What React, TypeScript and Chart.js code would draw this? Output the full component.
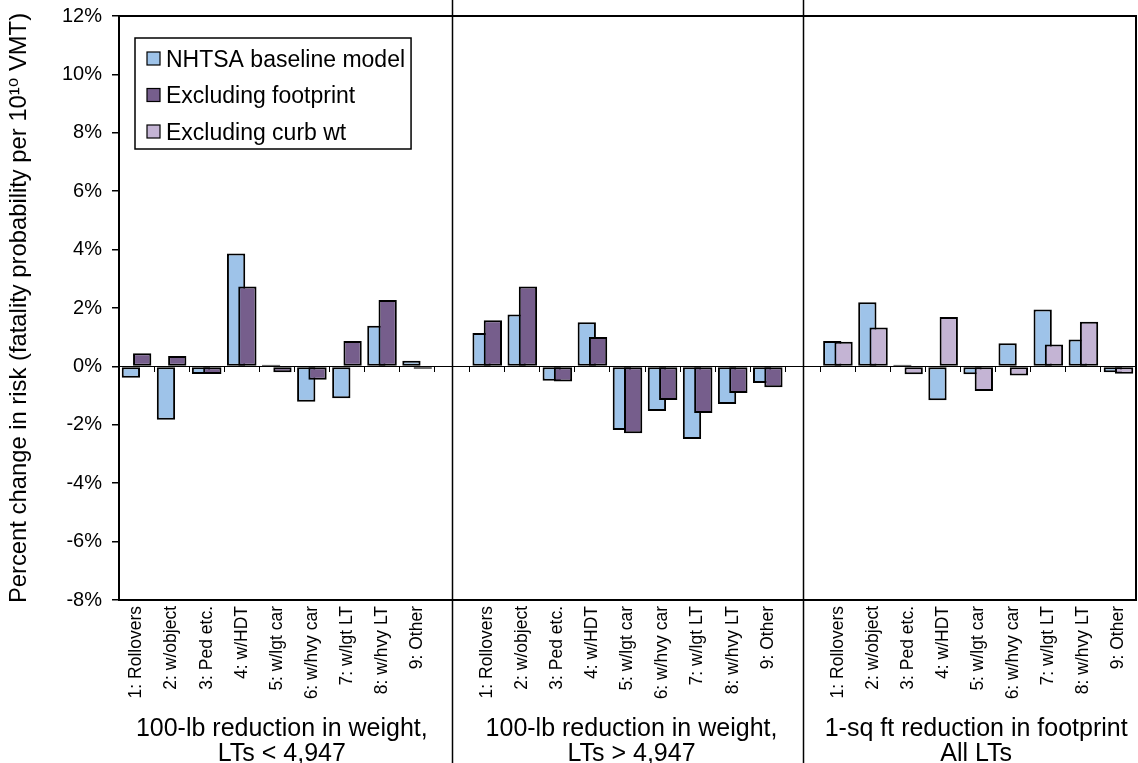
import React, { useEffect, useRef } from 'react';
import { Chart, registerables } from 'chart.js';

Chart.register(...registerables);

const FONT = '"Liberation Sans", Arial, "DejaVu Sans", sans-serif';

// ---- data ----
const crashTypes = [
  '1: Rollovers',
  '2: w/object',
  '3: Ped etc.',
  '4: w/HDT',
  '5: w/lgt car',
  '6: w/hvy car',
  '7: w/lgt LT',
  '8: w/hvy LT',
  '9: Other',
];

const groupTitles = [
  ['100-lb reduction in weight,', 'LTs < 4,947'],
  ['100-lb reduction in weight,', 'LTs > 4,947'],
  ['1-sq ft reduction in footprint', 'All LTs'],
];

const seriesNames = ['NHTSA baseline model', 'Excluding footprint', 'Excluding curb wt'];

// percent change in risk, panel 1: 100-lb reduction, LTs < 4,947
const baselineLight = [-0.39, -1.83, -0.26, 3.87, 0.06, -1.21, -1.09, 1.39, 0.19];
const footprintLight = [0.45, 0.36, -0.26, 2.74, -0.2, -0.46, 0.87, 2.27, -0.08];
// panel 2: 100-lb reduction, LTs > 4,947
const baselineHeavy = [1.14, 1.78, -0.49, 1.51, -2.18, -1.53, -2.49, -1.29, -0.57];
const footprintHeavy = [1.58, 2.74, -0.52, 1.01, -2.29, -1.15, -1.6, -0.91, -0.71];
// panel 3: 1-sq ft reduction in footprint, all LTs
const baselineFootprint = [0.87, 2.2, 0.06, -1.16, -0.27, 0.79, 1.95, 0.92, -0.2];
const curbWtFootprint = [0.84, 1.33, -0.27, 1.69, -0.84, -0.31, 0.75, 1.53, -0.25];

const yMin = -8;
const yMax = 12;
const yStep = 2;

// ---- derived tables ----
const categoryLabels = [...crashTypes, '', ...crashTypes, '', ...crashTypes];
const empty9 = crashTypes.map(() => null);
const blueData = [...baselineLight, null, ...baselineHeavy, null, ...baselineFootprint];
const purpleData = [...footprintLight, null, ...footprintHeavy, null, ...empty9];
const lilacData = [...empty9, null, ...empty9, null, ...curbWtFootprint];

const COLORS = { blue: '#9EC3E9', purple: '#765E8C', lilac: '#C4B4D4' };

// draw datasets first-to-last so the right-hand (second) bar overlaps the first
const forwardDrawOrder = {
  id: 'forwardDrawOrder',
  beforeDatasetsDraw(chart: any) {
    const metas = chart.getSortedVisibleDatasetMetas();
    metas.forEach((m: any) => m.controller.draw());
    return false;
  },
};

const frameAndPanels = {
  id: 'frameAndPanels',
  afterDraw(chart: any) {
    const { ctx, chartArea, scales, height } = chart;
    const xs = scales.x;
    ctx.save();
    ctx.strokeStyle = '#000';
    ctx.lineWidth = 2;
    ctx.strokeRect(chartArea.left, chartArea.top, chartArea.right - chartArea.left, chartArea.bottom - chartArea.top);
    ctx.lineWidth = 1.5;
    categoryLabels.forEach((lab, i) => {
      if (lab === '') {
        const x = Math.round(xs.getPixelForValue(i)) + 0.5;
        ctx.beginPath();
        ctx.moveTo(x, 0);
        ctx.lineTo(x, height);
        ctx.stroke();
      }
    });
    ctx.fillStyle = '#000';
    ctx.font = `25px ${FONT}`;
    ctx.textAlign = 'center';
    ctx.textBaseline = 'alphabetic';
    const offsets = [5, 4, -2];
    groupTitles.forEach((lines, g) => {
      const cx = xs.getPixelForValue(g * 10 + 4) + offsets[g];
      ctx.fillText(lines[0], cx, 736);
      ctx.fillText(lines[1], cx, 761);
    });
    ctx.restore();
  },
};

const legendBox = {
  id: 'legendBox',
  afterDraw(chart: any) {
    const { ctx, chartArea } = chart;
    const items = chart.data.datasets.filter((d: any) => seriesNames.includes(d.label));
    items.sort((a: any, b: any) => seriesNames.indexOf(a.label) - seriesNames.indexOf(b.label));
    ctx.save();
    const fs = 23;
    ctx.font = `${fs}px ${FONT}`;
    const left = chartArea.left + 16;
    const top = chartArea.top + 22;
    const textX = left + 31;
    const maxW = Math.max(...items.map((d: any) => ctx.measureText(d.label).width));
    const right = textX + maxW + 6;
    const bottom = top + 111;
    ctx.fillStyle = '#fff';
    ctx.fillRect(left, top, right - left, bottom - top);
    ctx.strokeStyle = '#000';
    ctx.lineWidth = 1.5;
    ctx.strokeRect(left, top, right - left, bottom - top);
    items.forEach((d: any, i: number) => {
      const cy = top + 20.5 + i * 36.5;
      ctx.fillStyle = d.backgroundColor;
      ctx.fillRect(left + 12, cy - 6.5, 13, 13);
      ctx.lineWidth = 1.2;
      ctx.strokeStyle = '#000';
      ctx.strokeRect(left + 12, cy - 6.5, 13, 13);
      ctx.fillStyle = '#000';
      ctx.textBaseline = 'alphabetic';
      ctx.textAlign = 'left';
      ctx.fillText(d.label, textX, cy + 0.358 * fs);
    });
    ctx.restore();
  },
};

export default function App() {
  const ref = useRef<HTMLCanvasElement | null>(null);

  useEffect(() => {
    if (!ref.current) return;
    const barCommon = {
      borderColor: '#000',
      borderWidth: 2,
      borderSkipped: false,
      categoryPercentage: 0.644,
      barPercentage: 1.62,
    };
    const chart = new Chart(ref.current, {
      type: 'bar',
      data: {
        labels: categoryLabels,
        datasets: [
          { ...barCommon, label: seriesNames[0], data: blueData, backgroundColor: COLORS.blue, stack: 'left' },
          { ...barCommon, label: seriesNames[1], data: purpleData, backgroundColor: COLORS.purple, stack: 'right' },
          { ...barCommon, label: seriesNames[2], data: lilacData, backgroundColor: COLORS.lilac, stack: 'right' },
        ] as any,
      },
      options: {
        animation: false,
        responsive: false,
        devicePixelRatio: 1,
        layout: { padding: { top: 16, right: 2, left: 0, bottom: 0 } },
        plugins: { legend: { display: false }, tooltip: { enabled: false }, title: { display: false } },
        scales: {
          x: {
            type: 'category',
            offset: true,
            grid: { display: false, drawTicks: false },
            border: { display: true, color: '#000', width: 2 },
            ticks: {
              autoSkip: false,
              minRotation: 90,
              maxRotation: 90,
              padding: 6,
              color: '#000',
              font: { family: FONT, size: 17.5 },
            },
            afterFit: (s: any) => {
              s.height = 163;
              s.paddingLeft = 0;
              s.paddingRight = 0;
            },
          },
          zeroAxis: {
            type: 'category',
            axis: 'x',
            offset: true,
            position: { y: 0 },
            grid: { display: true, drawOnChartArea: false, drawTicks: true, tickLength: 5, offset: true, color: '#000', lineWidth: 1 },
            border: { display: true, color: '#000', width: 1 },
            ticks: { display: false },
            afterFit: (s: any) => {
              s.paddingLeft = 0;
              s.paddingRight = 0;
            },
          },
          y: {
            min: yMin,
            max: yMax,
            stacked: false,
            ticks: {
              stepSize: yStep,
              callback: (v: any) => `${v}%`,
              padding: 10,
              color: '#000',
              font: { family: FONT, size: 20 },
            },
            grid: { drawOnChartArea: false, drawTicks: true, tickLength: 7, color: '#000', lineWidth: 1.5 },
            border: { display: true, color: '#000', width: 2 },
            title: {
              display: true,
              text: 'Percent change in risk (fatality probability per 10\u00B9\u2070 VMT)',
              color: '#000',
              font: { family: FONT, size: 23.8 },
              padding: { top: 5, bottom: 0 },
            },
            afterFit: (s: any) => {
              s.width = 119;
              s.paddingTop = 0;
              s.paddingBottom = 0;
            },
          },
        } as any,
      },
      plugins: [forwardDrawOrder, frameAndPanels, legendBox],
    });
    return () => chart.destroy();
  }, []);

  return (
    <div style={{ position: 'fixed', left: 0, top: 0, width: 1138, height: 763, background: '#fff' }}>
      <canvas ref={ref} width={1138} height={763} />
    </div>
  );
}
